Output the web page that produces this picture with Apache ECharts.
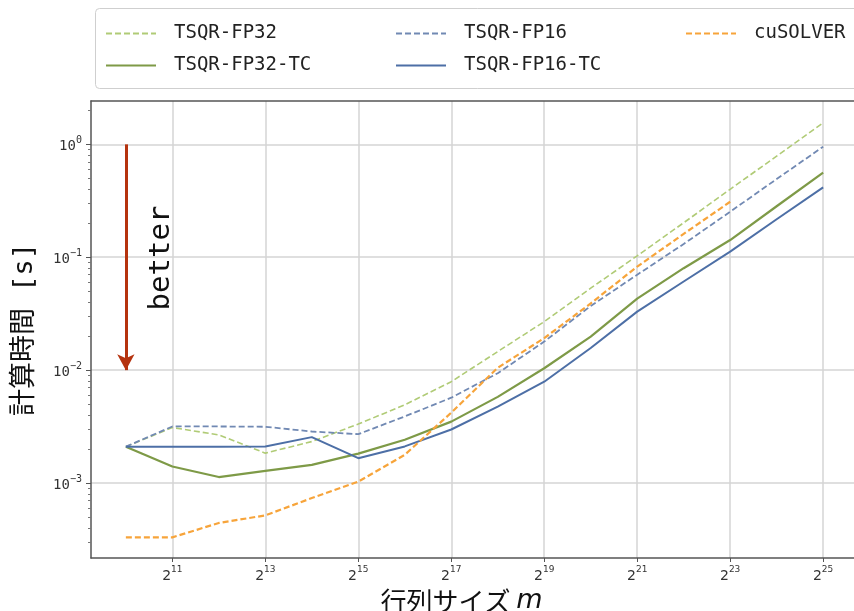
<!DOCTYPE html>
<html>
<head>
<meta charset="utf-8">
<title>TSQR timing</title>
<script src="https://cdn.jsdelivr.net/npm/echarts@6.0.0/dist/echarts.min.js"></script>
<style>
  html, body { margin: 0; padding: 0; background: #fff; }
  #container { width: 854px; height: 611px; }
</style>
</head>
<body>
<div id="container"></div>
<script>
// matrix size m, 2^10 .. 2^25
var sizes = [1024, 2048, 4096, 8192, 16384, 32768, 65536, 131072, 262144,
	524288, 1048576, 2097152, 4194304, 8388608, 16777216, 33554432];

// tick positions
var xTicks = [2048, 8192, 32768, 131072, 524288, 2097152, 8388608, 33554432];
var yTicks = [0.001, 0.01, 0.1, 1];

// computation time [s]
var fp32   = [2.1e-3, 3.1e-3, 2.67e-3, 1.84e-3, 2.33e-3, 3.33e-3, 4.93e-3, 7.9e-3, 0.0146, 0.0269, 0.0532, 0.103, 0.202, 0.40, 0.787, 1.55];
var fp32tc = [2.1e-3, 1.40e-3, 1.13e-3, 1.28e-3, 1.45e-3, 1.82e-3, 2.42e-3, 3.5e-3, 5.8e-3, 0.0104, 0.0198, 0.043, 0.080, 0.142, 0.283, 0.561];
var fp16   = [2.1e-3, 3.17e-3, 3.17e-3, 3.15e-3, 2.86e-3, 2.71e-3, 3.89e-3, 5.7e-3, 9.4e-3, 0.0179, 0.037, 0.070, 0.131, 0.253, 0.493, 0.953];
var fp16tc = [2.1e-3, 2.1e-3, 2.1e-3, 2.11e-3, 2.55e-3, 1.66e-3, 2.11e-3, 2.98e-3, 4.76e-3, 7.9e-3, 0.0157, 0.033, 0.061, 0.112, 0.217, 0.416];
var cusolver = [3.3e-4, 3.3e-4, 4.43e-4, 5.17e-4, 7.36e-4, 1.03e-3, 1.78e-3, 4.2e-3, 0.0105, 0.0192, 0.039, 0.0826, 0.161, 0.31];

// "better" arrow, from 1 s down to 10 ms
var arrowFrom = 1;
var arrowTo = 0.01;

(function() {
	'use strict';

	var mono = 'DejaVu Sans Mono';

	function pairs(vals) {
		return vals.map(function(v, i) { return [sizes[i], v]; });
	}

	// minor ticks between decades (2..9 x 10^k)
	var yMinor = [];
	for (var d = -4; d <= 0; d++) {
		for (var k = 2; k <= 9; k++) {
			yMinor.push(k * Math.pow(10, d));
		}
	}

	var xMin = Math.pow(2, 9.25), xMax = Math.pow(2, 25.75);
	var yMin = Math.pow(10, -3.664), yMax = Math.pow(10, 0.384);

	function line(name, vals, color, width, dashed) {
		return {
			name: name,
			type: 'line',
			data: pairs(vals),
			symbol: 'none',
			showSymbol: false,
			itemStyle: { color: color },
			lineStyle: { color: color, width: width, type: dashed ? [6, 3] : 'solid' }
		};
	}

	var legendCommon = {
		orient: 'vertical',
		top: 19,
		itemWidth: 50,
		itemHeight: 20,
		itemGap: 13,
		selectedMode: false,
		itemStyle: { color: 'rgba(0,0,0,0)', borderWidth: 0, opacity: 0 },
		textStyle: { fontFamily: mono, fontSize: 19, color: '#222', padding: [0, 0, 0, 13] }
	};

	var orange = line('cuSOLVER', cusolver, '#f7a43a', 2.2, true);
	orange.markLine = {
		silent: true,
		animation: false,
		symbol: ['none', 'arrow'],
		symbolSize: [13, 16],
		label: { show: false },
		lineStyle: { color: '#b5330f', width: 3, type: 'solid' },
		data: [[{ coord: [sizes[0], arrowFrom] }, { coord: [sizes[0], arrowTo] }]]
	};

	var option = {
		animation: false,
		backgroundColor: '#fff',
		graphic: [{
			type: 'rect',
			left: 95, top: 8,
			shape: { width: 800, height: 80, r: 4 },
			style: { fill: '#fff', stroke: '#cfcfcf', lineWidth: 1 },
			z: -1
		}, {
			type: 'text',
			x: 161, y: 258,
			rotation: Math.PI / 2,
			style: {
				text: 'better', fontFamily: mono, fontSize: 29, fill: '#111',
				textAlign: 'center', textVerticalAlign: 'middle'
			}
		}],
		legend: [
			Object.assign({ left: 100, data: ['TSQR-FP32', 'TSQR-FP32-TC'] }, legendCommon),
			Object.assign({ left: 390, data: ['TSQR-FP16', 'TSQR-FP16-TC'] }, legendCommon),
			Object.assign({ left: 680, data: ['cuSOLVER'] }, legendCommon)
		],
		grid: {
			left: 91, width: 767, top: 101, height: 457,
			outerBoundsMode: 'none'
		},
		xAxis: [{
			type: 'log',
			logBase: 2,
			min: xMin,
			max: xMax,
			name: '行列サイズ {i|m}',
			nameLocation: 'middle',
			nameGap: 23,
			nameTextStyle: {
				fontFamily: 'Noto Sans CJK JP', fontSize: 26, color: '#111',
				padding: [0, 26, 0, 0],
				rich: { i: { fontFamily: 'DejaVu Sans', fontStyle: 'italic', fontSize: 27, color: '#111' } }
			},
			axisLine: { lineStyle: { color: '#555', width: 1.5 } },
			axisTick: { customValues: xTicks, length: 4, lineStyle: { color: '#555' } },
			axisLabel: {
				customValues: xTicks,
				margin: 7,
				formatter: function(v) {
					return '{b|2}{s|' + Math.round(Math.log(v) / Math.LN2) + '}';
				},
				rich: {
					b: { fontFamily: 'DejaVu Sans', fontSize: 14, color: '#333', lineHeight: 18, verticalAlign: 'bottom' },
					s: { fontFamily: 'DejaVu Sans', fontSize: 9, color: '#333', lineHeight: 18, verticalAlign: 'top' }
				}
			},
			splitLine: { show: true, lineStyle: { color: '#d4d4d4', width: 1.5 } }
		}, {
			// top frame line only
			type: 'log',
			logBase: 2,
			min: xMin,
			max: xMax,
			position: 'top',
			axisLine: { lineStyle: { color: '#555', width: 1.5 } },
			axisTick: { show: false },
			axisLabel: { show: false },
			splitLine: { show: false }
		}],
		yAxis: [{
			type: 'log',
			min: yMin,
			max: yMax,
			name: '計算時間 [s]',
			nameLocation: 'middle',
			nameGap: 53,
			nameTextStyle: { fontFamily: 'DejaVu Sans Mono, Noto Sans CJK JP', fontSize: 27, color: '#111' },
			axisLine: { lineStyle: { color: '#555', width: 1.5 } },
			axisTick: { customValues: yTicks, length: 5, lineStyle: { color: '#555' } },
			axisLabel: {
				customValues: yTicks,
				margin: 9,
				formatter: function(v) {
					return '{b|10}{s|' + String(Math.round(Math.log10(v))).replace('-', '−') + '}';
				},
				rich: {
					b: { fontFamily: mono, fontSize: 14, color: '#333', lineHeight: 18, verticalAlign: 'bottom' },
					s: { fontFamily: mono, fontSize: 10, color: '#333', lineHeight: 18, verticalAlign: 'top' }
				}
			},
			splitLine: { show: true, lineStyle: { color: '#d4d4d4', width: 1.5 } }
		}, {
			type: 'log',
			min: yMin,
			max: yMax,
			position: 'left',
			axisLine: { show: false },
			axisTick: { customValues: yMinor, length: 3, lineStyle: { color: '#777' } },
			axisLabel: { show: false },
			splitLine: { show: false }
		}],
		series: [
			line('TSQR-FP32', fp32, '#b0cb76', 1.6, true),
			line('TSQR-FP32-TC', fp32tc, '#7e9a47', 2.2, false),
			line('TSQR-FP16', fp16, '#7189b3', 1.8, true),
			line('TSQR-FP16-TC', fp16tc, '#4d6fa6', 2.0, false),
			orange
		]
	};

	var myChart = echarts.init(document.getElementById('container'));
	myChart.setOption(option);
})();
</script>
</body>
</html>
